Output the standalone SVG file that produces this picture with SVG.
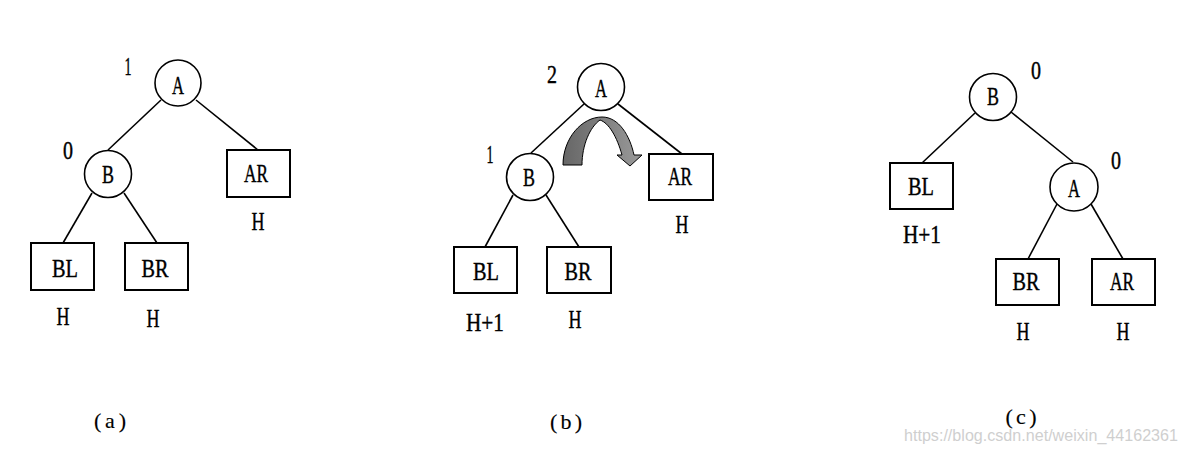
<svg xmlns="http://www.w3.org/2000/svg" width="1186" height="452" viewBox="0 0 1186 452">
<style>
.bg{fill:#fff}
.circ{fill:#fff;stroke:#000;stroke-width:1.6}
.box{fill:#fff;stroke:#000;stroke-width:2}
.edge{stroke:#000;stroke-width:1.6;fill:none}
text{font-family:"Liberation Serif","Noto Serif",serif;font-size:25px;fill:#000;stroke:#000;stroke-width:0.4;text-anchor:middle}
.cap{font-size:22px;stroke-width:0.15}
.wm{font-family:"Liberation Sans",Arial,sans-serif;font-size:17px;fill:#cfcfcf;stroke:none;text-anchor:start}
</style>
<defs>
<linearGradient id="arrowGrad" x1="0" y1="0" x2="1" y2="0">
<stop offset="0" stop-color="#666"/>
<stop offset="1" stop-color="#9a9a9a"/>
</linearGradient>
</defs>
<rect class="bg" x="0" y="0" width="1186" height="452"/>

<g id="connectors">
<line class="edge" x1="161" y1="100" x2="108" y2="150"/>
<line class="edge" x1="196" y1="100" x2="258" y2="150"/>
<line class="edge" x1="92" y1="193" x2="63" y2="243"/>
<line class="edge" x1="124" y1="193" x2="157" y2="243"/>

<line class="edge" x1="584" y1="104" x2="531" y2="153"/>
<line class="edge" x1="618" y1="104" x2="682" y2="154"/>
<line class="edge" x1="513" y1="195" x2="485" y2="247"/>
<line class="edge" x1="546" y1="195" x2="579" y2="247"/>

<line class="edge" x1="975" y1="113" x2="922" y2="163"/>
<line class="edge" x1="1011" y1="112" x2="1073" y2="162"/>
<line class="edge" x1="1057" y1="204" x2="1028" y2="259"/>
<line class="edge" x1="1091" y1="204" x2="1123" y2="259"/>
</g>

<g id="a-A"><circle class="circ" cx="178" cy="83" r="23"/><text x="178" y="94" textLength="12" lengthAdjust="spacingAndGlyphs">A</text></g>
<g id="a-B"><circle class="circ" cx="108" cy="174" r="23.5"/><text x="108" y="183" textLength="12" lengthAdjust="spacingAndGlyphs">B</text></g>
<g id="a-AR"><rect class="box" x="227" y="150" width="63" height="47"/><text x="256" y="182" textLength="24" lengthAdjust="spacingAndGlyphs">AR</text></g>
<g id="a-BL"><rect class="box" x="31" y="243" width="63" height="47"/><text x="65" y="277" textLength="26" lengthAdjust="spacingAndGlyphs">BL</text></g>
<g id="a-BR"><rect class="box" x="125" y="243" width="63" height="47"/><text x="155" y="277" textLength="27" lengthAdjust="spacingAndGlyphs">BR</text></g>
<g id="a-labels">
<text x="128" y="75" textLength="7" lengthAdjust="spacingAndGlyphs">1</text>
<text x="68" y="159" textLength="10" lengthAdjust="spacingAndGlyphs">0</text>
<text x="258" y="230" textLength="13" lengthAdjust="spacingAndGlyphs">H</text>
<text x="63" y="325" textLength="13" lengthAdjust="spacingAndGlyphs">H</text>
<text x="153" y="327" textLength="13" lengthAdjust="spacingAndGlyphs">H</text>
<text class="cap" x="110" y="428" textLength="32" lengthAdjust="spacing">(a)</text>
</g>

<g id="b-A"><circle class="circ" cx="601" cy="87" r="23.5"/><text x="601" y="97" textLength="12" lengthAdjust="spacingAndGlyphs">A</text></g>
<g id="b-B"><circle class="circ" cx="530" cy="177" r="23.5"/><text x="529" y="186" textLength="12" lengthAdjust="spacingAndGlyphs">B</text></g>
<g id="b-AR"><rect class="box" x="649" y="154" width="64" height="46"/><text x="680" y="185" textLength="24" lengthAdjust="spacingAndGlyphs">AR</text></g>
<g id="b-BL"><rect class="box" x="454" y="247" width="63" height="46"/><text x="486" y="280" textLength="26" lengthAdjust="spacingAndGlyphs">BL</text></g>
<g id="b-BR"><rect class="box" x="547" y="247" width="64" height="46"/><text x="578" y="280" textLength="27" lengthAdjust="spacingAndGlyphs">BR</text></g>
<g id="b-rotation">
<path d="M563,165 C563,138 582,117 602,117 C619,117 630,136 634,155 L642,155 L630,166 L617,155 L622,155 C617,137 609,123 600,120 C590,127 582,145 582,165 Z" fill="url(#arrowGrad)" stroke="#000" stroke-width="1"/>
</g>
<g id="b-labels">
<text x="552" y="83" textLength="10" lengthAdjust="spacingAndGlyphs">2</text>
<text x="490" y="163" textLength="7" lengthAdjust="spacingAndGlyphs">1</text>
<text x="682" y="233" textLength="13" lengthAdjust="spacingAndGlyphs">H</text>
<text x="485" y="331" textLength="38" lengthAdjust="spacingAndGlyphs">H+1</text>
<text x="575" y="328" textLength="13" lengthAdjust="spacingAndGlyphs">H</text>
<text class="cap" x="566" y="429" textLength="32" lengthAdjust="spacing">(b)</text>
</g>

<g id="c-B"><circle class="circ" cx="993" cy="97" r="23.5"/><text x="993" y="105" textLength="12" lengthAdjust="spacingAndGlyphs">B</text></g>
<g id="c-A"><circle class="circ" cx="1074" cy="187" r="24"/><text x="1074" y="197" textLength="12" lengthAdjust="spacingAndGlyphs">A</text></g>
<g id="c-BL"><rect class="box" x="890" y="163" width="63" height="46"/><text x="921" y="195" textLength="26" lengthAdjust="spacingAndGlyphs">BL</text></g>
<g id="c-BR"><rect class="box" x="996" y="259" width="63" height="46"/><text x="1026" y="290" textLength="27" lengthAdjust="spacingAndGlyphs">BR</text></g>
<g id="c-AR"><rect class="box" x="1092" y="259" width="63" height="46"/><text x="1122" y="290" textLength="24" lengthAdjust="spacingAndGlyphs">AR</text></g>
<g id="c-labels">
<text x="1036" y="79" textLength="10" lengthAdjust="spacingAndGlyphs">0</text>
<text x="1116" y="169" textLength="10" lengthAdjust="spacingAndGlyphs">0</text>
<text x="922" y="243" textLength="38" lengthAdjust="spacingAndGlyphs">H+1</text>
<text x="1023" y="340" textLength="13" lengthAdjust="spacingAndGlyphs">H</text>
<text x="1123" y="340" textLength="13" lengthAdjust="spacingAndGlyphs">H</text>
<text class="cap" x="1021" y="424" textLength="31" lengthAdjust="spacing">(c)</text>
</g>

<text class="wm" x="904" y="441" textLength="274" lengthAdjust="spacingAndGlyphs">https://blog.csdn.net/weixin_44162361</text>
</svg>
